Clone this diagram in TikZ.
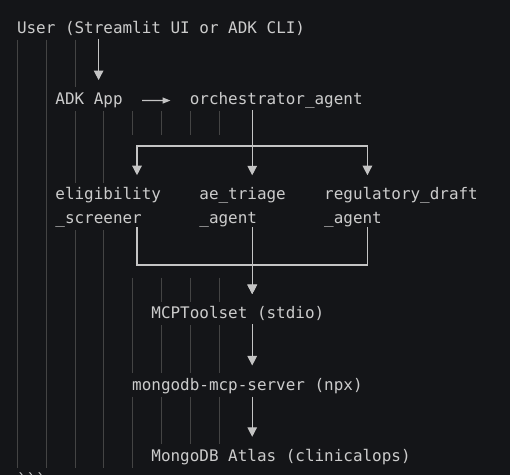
\documentclass[tikz,border=0pt]{standalone}
\usepackage{fontspec}
\newfontfamily\codefont{DejaVu Sans Mono}[Ligatures=TeXOff]
\usetikzlibrary{arrows.meta}
\definecolor{bg}{HTML}{141518}
\definecolor{txt}{HTML}{CCCCCC}
\definecolor{wirec}{HTML}{C4C4C4}
\definecolor{guidec}{HTML}{444444}
\begin{document}
\begin{tikzpicture}[x=1pt,y=-1pt,
  code/.style={font=\fontsize{15.95}{23.8}\selectfont\codefont, text=txt,
    inner sep=0pt, outer sep=0pt, anchor=base west, align=left},
  wire/.style={draw=wirec, line width=1.3pt},
  arr/.style={wire, -{Triangle[length=9.5pt,width=9.5pt]}},
  harr/.style={wire, -{Triangle[length=8pt,width=6pt]}},
  guide/.style={draw=guidec, line width=0.9pt}]
\fill[bg] (0,0) rectangle (510,475);
\useasboundingbox (0,0) rectangle (510,475);
% indent guides
\foreach \i/\L in {1/8,2/8,3/4,4/24,5/12,6/12,7/4,8/4,9/12,10/12,11/24,12/14,13/24,14/24,15/12,16/24,17/24,18/14}{
  \pgfmathtruncatemacro\n{(\L-1)/3}
  \foreach \k in {0,...,\n}{
    \draw[guide] ({17.5+28.8*\k},{33.3+23.8*\i-17.4}) -- ++(0,23.8);
  }
}
% column coordinates
\coordinate (c8) at (98.6,0);
\coordinate (c12) at (137,0);
\coordinate (c24) at (252.2,0);
\coordinate (c36) at (367.4,0);
\coordinate (fork) at (252.2,146);
\coordinate (merge) at (252.2,265);
% nodes (multi-line nodes: base = last line)
\node[code] (user) at (17,33.3) {User (Streamlit UI or ADK CLI)};
\node[code] (adk) at (55.4,104.7) {ADK App};
\node[code] (orch) at (189.8,104.7) {orchestrator\_agent};
\node[code] (elig) at (55.4,223.7) {eligibility\\\_screener};
\node[code] (triage) at (199.4,223.7) {ae\_triage\\\_agent};
\node[code] (reg) at (324.2,223.7) {regulatory\_draft\\\_agent};
\node[code] (mcp) at (151.4,318.9) {MCPToolset (stdio)};
\node[code] (srv) at (132.2,390.3) {mongodb-mcp-server (npx)};
\node[code] (atlas) at (151.4,461.7) {MongoDB Atlas (clinicalops)};
\node[code] (fence) at (17,485.5) {```};
% connectors
\draw[arr, shorten <=3.5pt, shorten >=13pt] (user.south -| c8) -- (adk.north -| c8);
\draw[harr, shorten <=19.4pt, shorten >=19.3pt] (adk.east) -- (orch.west);
\draw[arr, shorten <=2pt, shorten >=12.5pt] (orch.south -| c24) -- (triage.north -| c24);
\draw[arr, shorten <=2pt, shorten >=12.5pt] (orch.south -| c24) -- (fork) -| (elig.north -| c12);
\draw[arr, shorten <=2pt, shorten >=12.5pt] (orch.south -| c24) -- (fork) -| (reg.north -| c36);
\draw[arr, shorten >=12.7pt] (elig.south -| c12) |- (merge) -- (mcp.north -| c24);
\draw[arr, shorten >=12.7pt] (triage.south -| c24) -- (mcp.north -| c24);
\draw[arr, shorten >=12.7pt] (reg.south -| c36) |- (merge) -- (mcp.north -| c24);
\draw[arr, shorten <=3pt, shorten >=12.7pt] (mcp.south -| c24) -- (srv.north -| c24);
\draw[arr, shorten <=3pt, shorten >=12.7pt] (srv.south -| c24) -- (atlas.north -| c24);
\end{tikzpicture}
\end{document}
